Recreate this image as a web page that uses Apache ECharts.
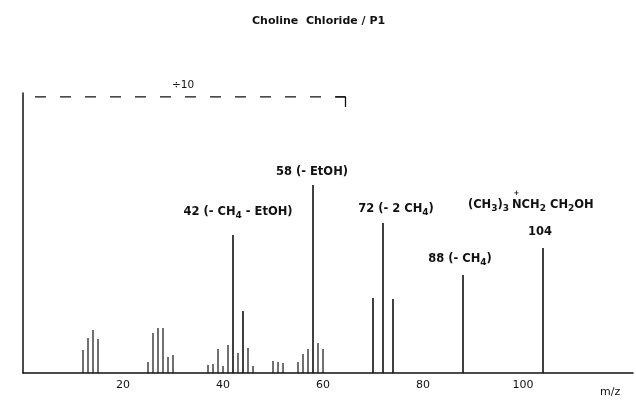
<!DOCTYPE html>
<html>
<head>
<meta charset="utf-8">
<script src="https://cdn.jsdelivr.net/npm/echarts@6/dist/echarts.min.js"></script>
<style>
html, body { margin: 0; background: #fff; }
#chart-container { width: 636px; height: 400px; }
</style>
</head>
<body>
<div id="chart-container"></div>
<script>
// Peaks (m/z and relative intensity, 0-100)
var massToCharge = [12, 13, 14, 15, 25, 26, 27, 28, 29, 30, 37, 38, 39, 40, 41, 42, 43, 44, 45, 46, 50, 51, 52, 55, 56, 57, 58, 59, 60, 70, 72, 74, 88, 104];
var intensity = [8.2, 12.5, 15.4, 12.1, 3.9, 14.3, 16.1, 16.1, 5.7, 6.4, 2.9, 3.2, 8.6, 2.5, 10, 49.3, 7.1, 22.1, 8.9, 2.5, 4.3, 3.9, 3.6, 3.9, 6.8, 8.6, 67.1, 10.7, 8.6, 26.8, 53.6, 26.4, 35, 44.6];
var tickLabels = [20, 40, 60, 80, 100];

// fragment labels, keyed by m/z ({s|..} = subscript)
var noteMz = [42, 58, 72, 88, 104];
var noteText = ['42 (- CH{s|4} - EtOH)', '58 (- EtOH)', '72 (- 2 CH{s|4})', '88 (- CH{s|4})', '104'];
var parentIonHead = '(CH{s|3}){s|3}';
var parentIonTail = 'NCH{s|2} CH{s|2}OH';
var scaleNote = '÷10';
// the "÷10" bracket: from m/z 0 to bracketEnd at bracketLevel
var bracketEnd = 64.5;
var bracketLevel = 98.6;
var bracketDrop = 95;

var dom = document.getElementById('chart-container');
var myChart = echarts.init(dom, null, { renderer: 'canvas' });

var ink = '#111';
var letterFont = 'DejaVu Sans';
var noteFont = 'bold 11.5px "' + letterFont + '"';
var subStyle = {
	s: {
		font: 'bold 9px "' + letterFont + '"',
		verticalAlign: 'bottom',
		lineHeight: 10
	}
};

// label offsets from the top of each peak (px)
var noteOffset = {
	42: [5, -23],
	58: [-1, -13],
	72: [13, -14],
	88: [-3, -16],
	104: [-3, -16]
};

var peaks = massToCharge.map(function (mz, i) {
	return [mz, intensity[i]];
});

function noteStyle(text, align) {
	return {
		text: text,
		font: noteFont,
		lineHeight: 16,
		fill: ink,
		align: align,
		verticalAlign: 'middle',
		rich: subStyle
	};
}

var option = {
	animation: false,
	title: {
		text: 'Choline  Chloride / P1',
		left: 247,
		top: 11,
		textStyle: {
			fontFamily: letterFont,
			fontSize: 11,
			fontWeight: 'bold',
			color: ink
		}
	},
	grid: {
		left: 23,
		top: 93,
		width: 610,
		bottom: 27
	},
	xAxis: {
		type: 'value',
		min: 0,
		max: 122,
		interval: 20,
		axisLine: {
			lineStyle: { color: ink, width: 1.5 }
		},
		axisTick: { show: false },
		splitLine: { show: false },
		axisLabel: {
			margin: 7,
			fontFamily: letterFont,
			fontSize: 11,
			color: ink,
			showMaxLabel: false,
			formatter: function (v) {
				return tickLabels.indexOf(v) >= 0 ? String(v) : '';
			}
		}
	},
	yAxis: {
		type: 'value',
		min: 0,
		max: 100,
		axisLine: {
			show: true,
			lineStyle: { color: ink, width: 1.5 }
		},
		axisTick: { show: false },
		axisLabel: { show: false },
		splitLine: { show: false }
	},
	graphic: [
		{
			type: 'text',
			left: 172,
			top: 80,
			style: {
				text: scaleNote,
				font: '10.5px "' + letterFont + '"',
				fill: ink
			}
		},
		{
			type: 'text',
			left: 600,
			top: 387,
			style: {
				text: 'm/z',
				font: '11px "' + letterFont + '"',
				fill: ink
			}
		}
	],
	series: [
		{
			name: 'spectrum',
			type: 'custom',
			data: peaks,
			renderItem: function (params, api) {
				var mz = api.value(0);
				var h = api.value(1);
				var base = api.coord([mz, 0]);
				var top = api.coord([mz, h]);
				var children = [{
					type: 'line',
					shape: { x1: base[0], y1: base[1], x2: top[0], y2: top[1] },
					style: { stroke: ink, lineWidth: h > 20 ? 1.6 : 1.2 }
				}];
				var k = noteMz.indexOf(mz);
				if (k >= 0) {
					var off = noteOffset[mz];
					children.push({
						type: 'text',
						x: top[0] + off[0],
						y: top[1] + off[1],
						style: noteStyle(noteText[k], 'center')
					});
					if (mz === 104) {
						// parent ion formula above the 104 label, split at the charged N
						var nx = top[0] - 31;
						var ny = top[1] - 43;
						children.push({
							type: 'text', x: nx - 3, y: ny,
							style: noteStyle(parentIonHead, 'right')
						});
						children.push({
							type: 'text', x: nx, y: ny,
							style: noteStyle(parentIonTail, 'left')
						});
						children.push({
							type: 'text', x: nx + 4.5, y: ny - 12,
							style: {
								text: '+',
								font: 'bold 7px "' + letterFont + '"',
								fill: ink,
								align: 'center',
								verticalAlign: 'middle'
							}
						});
					}
				}
				return { type: 'group', children: children };
			}
		},
		{
			name: 'bracket',
			type: 'line',
			symbol: 'none',
			silent: true,
			lineStyle: { color: ink, width: 1.3, type: [11, 14], dashOffset: 13 },
			data: [[0, bracketLevel], [bracketEnd, bracketLevel]]
		},
		{
			name: 'bracket end',
			type: 'line',
			symbol: 'none',
			silent: true,
			lineStyle: { color: ink, width: 1.3 },
			data: [[bracketEnd - 2, bracketLevel], [bracketEnd, bracketLevel], [bracketEnd, bracketDrop]]
		}
	]
};

myChart.setOption(option);
window.addEventListener('resize', myChart.resize);
</script>
</body>
</html>
